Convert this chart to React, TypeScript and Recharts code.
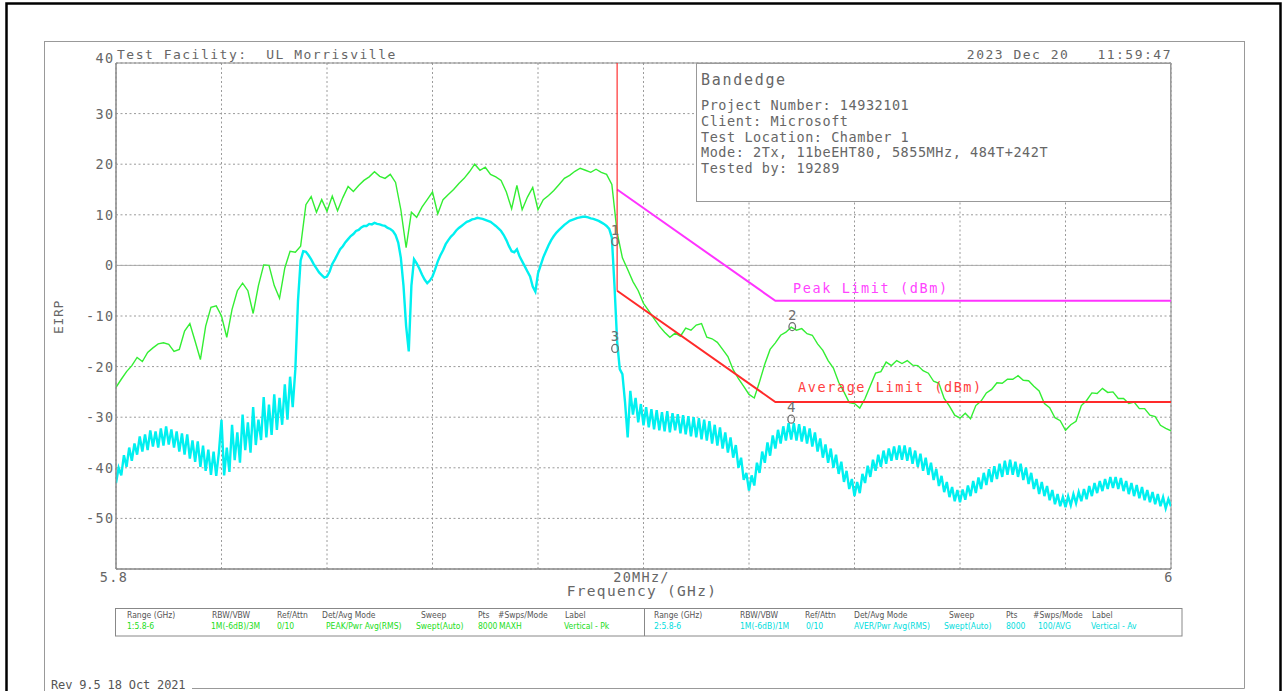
import React from 'react';
import {
  LineChart,
  Line,
  XAxis,
  YAxis,
  CartesianGrid,
  ReferenceLine,
  ReferenceArea,
  ReferenceDot,
} from 'recharts';

// ---------- data ----------
const START_GHZ = 5.8;
const PEAK_STEP_GHZ = 0.001; // peak trace: one sample per MHz
const AVG_STEP_GHZ = 0.0005; // average trace: one sample per 0.5 MHz

// Peak (Vertical - Pk), dBm EIRP, 5.800 .. 6.000 GHz
const peakTrace = [
  -24.1, -22.5, -21, -19.8, -18.2, -19, -17.2, -16.3, -15.5, -15.3,
  -15.6, -17, -16.6, -13, -11.5, -15, -18.6, -12, -8.3, -8,
  -10, -14.2, -8.7, -5, -3.5, -5, -9.5, -4, 0.1, 0,
  -4, -6.5, -0.5, 2.8, 2.6, 3.8, 12, 13.6, 10.5, 13,
  10.7, 13.7, 10.8, 13.4, 15.6, 14.6, 15.8, 16.8, 17.5, 18.5,
  17.6, 17.2, 18, 16.4, 11, 3.5, 10.5, 9.5, 11.5, 13,
  14.5, 10.2, 13, 14, 15, 16.2, 17.2, 18.5, 20, 18.8,
  19.4, 18, 17.5, 16.8, 14.5, 11.2, 15.8, 11, 13.5, 15.4,
  11, 13, 13.8, 14.8, 16, 17.2, 17.8, 18.6, 19.2, 18.8,
  18.4, 19, 18.4, 18, 16, 6.5, 1.5, -0.8, -3.2, -5,
  -7.5, -9, -10.5, -12, -13.2, -14.2, -13.4, -14, -12.4, -12.8,
  -11.8, -11.5, -14.2, -14.5, -15.2, -16.6, -18, -20.6, -22.4, -23.9,
  -25.5, -26.2, -23, -19.5, -16.6, -15.3, -13.8, -13.2, -12.2, -12.8,
  -12.5, -13.5, -13.8, -15.5, -16.8, -18.8, -20.3, -23.1, -25, -27.1,
  -27.3, -28.2, -26.3, -23.8, -21.3, -21, -19.1, -19.8, -18.8, -19.4,
  -18.8, -19.7, -19.8, -20.8, -21.3, -22.9, -23.3, -26.3, -27.8, -29.6,
  -30.2, -29.2, -30.3, -27.7, -26.8, -25.2, -24.5, -23.2, -23.3, -22.5,
  -22.5, -21.8, -22.7, -22.8, -23.9, -24.8, -27.3, -28.1, -30.1, -30.7,
  -32.6, -31.5, -30.8, -27.7, -26.7, -25.2, -25.3, -24.3, -25.1, -25,
  -26.3, -26.3, -27.3, -27, -28.3, -28.3, -29.6, -29.9, -31.6, -32.2,
  -32.7,
];

// Average (Vertical - Av), dBm EIRP, 5.8000 .. 6.0000 GHz in 0.5 MHz steps
const avgTrace = [
  -43, -40, -41.5, -37.5, -39.8, -36, -38.6, -35.2, -37.4, -33.8,
  -36.8, -33.4, -36.5, -32.6, -35.8, -32.8, -36, -32.2, -35.6, -31.8,
  -35.4, -32.4, -36, -32.8, -36.8, -33.2, -37.4, -33.4, -38.2, -34.6,
  -38.8, -34.8, -39.8, -35.6, -40.6, -36.4, -41.4, -36.8, -41.6, -37,
  -30.5, -41.5, -36, -40.8, -31.5, -38.5, -33, -39, -29.5, -36.5,
  -31, -37, -28, -35.5, -30.5, -34.5, -26, -34, -27.5, -33.5,
  -25.5, -32.5, -26.2, -31.5, -23.5, -30.5, -22, -28, -20.5, -7,
  1, 2.8, 2.7, 2.0, 1.2, 0.2, -0.6, -1.4, -1.9, -2.4,
  -2.2, -1.2, 0.3, 1.2, 2.2, 3.2, 3.8, 4.6, 5.2, 5.8,
  6.2, 6.8, 7, 7.5, 7.8, 7.8, 8.2, 8.1, 8.4, 8.2,
  8.1, 7.9, 7.8, 7.4, 7.2, 6.8, 6, 4.5, 1.5, -4,
  -12, -17, -4, 1.2, 0.4, -0.6, -1.8, -2.8, -3.5, -3,
  -2.2, -0.8, 0.8, 2, 3, 4.2, 5, 5.7, 6.2, 6.9,
  7.4, 7.8, 8.2, 8.6, 8.8, 9.1, 9.2, 9.4, 9.3, 9.2,
  9, 8.8, 8.6, 8.2, 7.8, 7.3, 6.8, 6, 5, 3.8,
  2.8, 2.6, 3.2, 1.8, 0.8, -0.2, -1.2, -2.2, -4.2, -5.2,
  -1.6, 0, 1.6, 2.8, 4, 5, 5.8, 6.5, 7, 7.5,
  8, 8.4, 8.8, 9, 9.2, 9.4, 9.5, 9.6, 9.6, 9.5,
  9.3, 9.2, 9, 8.8, 8.5, 8.2, 7.8, 7.2, 5.5, -4,
  -15, -20.5, -21.5, -27, -34, -24.8, -29.5, -26.2, -31, -27.4,
  -31.6, -28, -32, -28.4, -32.4, -28.6, -32.6, -29, -32.8, -28.8,
  -33, -29.2, -32.6, -29.4, -33.2, -29.6, -33.4, -29.8, -33.8, -30,
  -34, -30.2, -34.4, -30.5, -34.6, -30.8, -35.2, -31.5, -35.6, -32,
  -36.2, -33, -37, -34, -38, -35.5, -40, -38, -42.4, -41,
  -44.5, -41.5, -43.5, -39, -41, -36.8, -39, -35, -37.6, -33.6,
  -36.2, -32.5, -35.2, -31.8, -34.6, -31.2, -34.4, -31.2, -34.6, -31.4,
  -34.8, -31.8, -35.2, -32.2, -35.8, -33, -36.8, -34.2, -38, -35.4,
  -39, -36.2, -40, -37.4, -41.2, -38.8, -42.8, -40.6, -44.2, -42.2,
  -45.6, -42.8, -45, -41.2, -43, -39.6, -41.8, -38.4, -40.6, -37.4,
  -39.8, -36.6, -39.2, -36.2, -38.6, -35.8, -38.4, -35.6, -38.4, -35.6,
  -38.6, -36, -39.2, -36.6, -39.8, -37.2, -40.6, -38, -41.4, -39,
  -42.4, -40.2, -43.6, -41.6, -44.8, -42.8, -45.8, -43.8, -46.6, -44.4,
  -46.8, -44.3, -46.3, -43.5, -45.6, -42.6, -45, -41.9, -44.2, -41,
  -43.4, -40.3, -42.8, -39.7, -42.2, -39.2, -41.8, -38.6, -41.4, -38.4,
  -41.4, -38.8, -41.8, -39.2, -42.4, -40, -43.2, -41, -44.2, -42.2,
  -45.2, -42.8, -45.6, -43.6, -46.4, -44.4, -47.2, -45.2, -47.6, -45.8,
  -47.8, -45.6, -47.4, -45.2, -47, -44.8, -46.6, -44.2, -46.2, -43.6,
  -45.6, -43, -45, -42.6, -44.6, -42.2, -44.2, -41.8, -44, -41.8,
  -44.2, -42, -44.6, -42.6, -45.2, -43, -45.6, -43.4, -46, -43.8,
  -46.4, -44.4, -46.8, -44.8, -47.2, -45.2, -47.6, -45.8, -48, -46.2,
  -47.6,
];

// Limit lines
const limitFreqs = [5.895, 5.925, 6.0];
const peakLimit = [15, -7, -7];
const avgLimit = [-5, -27, -27];
const bandEdgeGHz = 5.895;

// Markers
const markerFreqs = [5.8946, 5.9282, 5.8946, 5.928];
const markerVals = [4.7, -12.1, -16.4, -30.4];
const markerLabels = ['1', '2', '3', '4'];

// Axes
const xTicks = [5.8, 5.82, 5.84, 5.86, 5.88, 5.9, 5.92, 5.94, 5.96, 5.98, 6.0];
const xTickLabels = ['5.8', '', '', '', '', '20MHz/', '', '', '', '', '6'];
const yTicks = [-60, -50, -40, -30, -20, -10, 0, 10, 20, 30, 40];
const yTickLabels = ['', '-50', '-40', '-30', '-20', '-10', '0', '10', '20', '30', '40'];

// Texts
const headerLeft = 'Test Facility:  UL Morrisville';
const headerRight = '2023 Dec 20   11:59:47';
const infoTitle = 'Bandedge';
const infoLines = [
  'Project Number: 14932101',
  'Client: Microsoft',
  'Test Location: Chamber 1',
  'Mode: 2Tx, 11beEHT80, 5855MHz, 484T+242T',
  'Tested by: 19289',
];
const tableHeaders = ['Range (GHz)', 'RBW/VBW', 'Ref/Attn', 'Det/Avg Mode', 'Sweep', 'Pts', '#Swps/Mode', 'Label'];
const leftValues = ['1:5.8-6', '1M(-6dB)/3M', '0/10', 'PEAK/Pwr Avg(RMS)', 'Swept(Auto)', '8000', 'MAXH', 'Vertical - Pk'];
const rightValues = ['2:5.8-6', '1M(-6dB)/1M', '0/10', 'AVER/Pwr Avg(RMS)', 'Swept(Auto)', '8000', '100/AVG', 'Vertical - Av'];

// ---------- layout ----------
const W = 1283;
const H = 691;
const PLOT_LEFT = 116;
const PLOT_RIGHT = 1171;
const PLOT_TOP = 63;
const PLOT_BOTTOM = 569;
const Y_AXIS_W = 40;
const X_AXIS_H = 30;

const leftHeaderX = [127, 212, 277, 322, 421, 478, 498, 565];
const leftValueX = [127, 211, 277, 326, 416, 478, 499, 564];
const rightHeaderX = [654, 740, 805, 854, 949, 1006, 1033, 1092];
const rightValueX = [654, 740, 806, 854, 944, 1006, 1038, 1091];

const MONO = "'DejaVu Sans Mono', monospace";
const COND = "'DejaVu Sans Condensed', 'DejaVu Sans', sans-serif";
const TEXT_GRAY = '#666';

const peakRows = peakTrace.map((v, i) => ({
  f: +(START_GHZ + i * PEAK_STEP_GHZ).toFixed(4),
  pk: v,
}));
const avgRows = avgTrace.map((v, j) => ({
  f: +(START_GHZ + j * AVG_STEP_GHZ).toFixed(5),
  av: v,
}));
const limitRows = limitFreqs.map((f, i) => ({ f, pl: peakLimit[i], al: avgLimit[i] }));

const XTick = (props: any) => {
  const { x, payload } = props;
  const idx = xTicks.findIndex((t) => Math.abs(t - payload.value) < 1e-6);
  const label = idx >= 0 ? xTickLabels[idx] : '';
  return (
    <text
      x={x - 2}
      y={PLOT_BOTTOM + 13}
      textAnchor="middle"
      fill={TEXT_GRAY}
      style={{ fontFamily: MONO, fontSize: 13.5, letterSpacing: 1.3 }}
    >
      {label}
    </text>
  );
};

const YTick = (props: any) => {
  const { y, payload } = props;
  const idx = yTicks.indexOf(payload.value);
  const label = idx >= 0 ? yTickLabels[idx] : '';
  const shift = payload.value === 40 ? -5.3 : 0;
  return (
    <text
      x={PLOT_LEFT - 1.5}
      y={y + 5 + shift}
      textAnchor="end"
      fill={TEXT_GRAY}
      style={{ fontFamily: MONO, fontSize: 13.5, letterSpacing: 1.4 }}
    >
      {label}
    </text>
  );
};

const makeMarker = (label: string) => (props: any) => {
  const { cx, cy } = props;
  return (
    <g>
      <text
        x={cx}
        y={cy - 7}
        textAnchor="middle"
        fill="#707070"
        style={{ fontFamily: MONO, fontSize: 14 }}
      >
        {label}
      </text>
      <ellipse cx={cx} cy={cy} rx={3.3} ry={4} fill="none" stroke="#707070" strokeWidth={1.3} />
    </g>
  );
};

const Overlay = () => (
  <svg
    width={W}
    height={H}
    style={{ position: 'absolute', left: 0, top: 0, pointerEvents: 'none' }}
  >
    {/* outer black frame */}
    <rect x={6.5} y={3.5} width={1274} height={720} fill="none" stroke="#000" strokeWidth={2.5} />
    {/* inner gray frame */}
    <line x1={44.5} y1={41} x2={44.5} y2={691} stroke="#999" strokeWidth={1} />
    <line x1={44.5} y1={41.5} x2={1244.5} y2={41.5} stroke="#999" strokeWidth={1} />
    <line x1={1244.5} y1={41} x2={1244.5} y2={688.5} stroke="#999" strokeWidth={1} />
    <line x1={192} y1={688.5} x2={1244.5} y2={688.5} stroke="#999" strokeWidth={1} />

    {/* header */}
    <text x={117} y={59} fill={TEXT_GRAY} style={{ fontFamily: MONO, fontSize: 13, letterSpacing: 1.5, whiteSpace: 'pre' }}>
      {headerLeft}
    </text>
    <text x={1172} y={59} textAnchor="end" fill={TEXT_GRAY} style={{ fontFamily: MONO, fontSize: 13, letterSpacing: 1.5, whiteSpace: 'pre' }}>
      {headerRight}
    </text>

    {/* info box */}
    <rect x={696.5} y={63.5} width={474} height={138} fill="#fff" stroke="#999" strokeWidth={1} />
    <text x={701} y={85} fill={TEXT_GRAY} style={{ fontFamily: MONO, fontSize: 15, letterSpacing: 1.7 }}>
      {infoTitle}
    </text>
    {infoLines.map((t, i) => (
      <text
        key={i}
        x={701}
        y={110 + i * 15.8}
        fill={TEXT_GRAY}
        style={{ fontFamily: MONO, fontSize: 13.5, letterSpacing: 0.55, whiteSpace: 'pre' }}
      >
        {t}
      </text>
    ))}

    {/* limit labels */}
    <text x={793} y={293} fill="#ff44ff" style={{ fontFamily: MONO, fontSize: 13.5, letterSpacing: 1.6, whiteSpace: 'pre' }}>
      Peak Limit (dBm)
    </text>
    <text x={798} y={392} fill="#ff4040" style={{ fontFamily: MONO, fontSize: 13.5, letterSpacing: 1.6, whiteSpace: 'pre' }}>
      Average Limit (dBm)
    </text>

    {/* axis titles */}
    <text
      x={0}
      y={0}
      transform="translate(63 317) rotate(-90)"
      textAnchor="middle"
      fill={TEXT_GRAY}
      style={{ fontFamily: MONO, fontSize: 13, letterSpacing: 0.7 }}
    >
      EIRP
    </text>
    <text x={642} y={596} textAnchor="middle" fill={TEXT_GRAY} style={{ fontFamily: MONO, fontSize: 14.5, letterSpacing: 1.3, whiteSpace: 'pre' }}>
      Frequency (GHz)
    </text>

    {/* settings table */}
    <rect x={115.5} y={608.5} width={1066.5} height={27.5} fill="none" stroke="#888" strokeWidth={1} />
    <line x1={644.5} y1={608.5} x2={644.5} y2={636} stroke="#888" strokeWidth={1} />
    {tableHeaders.map((t, i) => (
      <text key={'lh' + i} x={leftHeaderX[i]} y={618} fill="#555" style={{ fontFamily: COND, fontStretch: 'condensed', fontSize: 8.5, whiteSpace: 'pre' }}>
        {t}
      </text>
    ))}
    {leftValues.map((t, i) => (
      <text key={'lv' + i} x={leftValueX[i]} y={628.5} fill="#22dd22" style={{ fontFamily: COND, fontStretch: 'condensed', fontSize: 8.5, whiteSpace: 'pre' }}>
        {t}
      </text>
    ))}
    {tableHeaders.map((t, i) => (
      <text key={'rh' + i} x={rightHeaderX[i]} y={618} fill="#555" style={{ fontFamily: COND, fontStretch: 'condensed', fontSize: 8.5, whiteSpace: 'pre' }}>
        {t}
      </text>
    ))}
    {rightValues.map((t, i) => (
      <text key={'rv' + i} x={rightValueX[i]} y={628.5} fill="#00dddd" style={{ fontFamily: COND, fontStretch: 'condensed', fontSize: 8.5, whiteSpace: 'pre' }}>
        {t}
      </text>
    ))}

    {/* revision */}
    <text x={51} y={689} fill="#555" style={{ fontFamily: MONO, fontSize: 12, letterSpacing: -0.15, whiteSpace: 'pre' }}>
      Rev 9.5 18 Oct 2021
    </text>
  </svg>
);

export default function App() {
  return (
    <div
      style={{
        position: 'absolute',
        left: 0,
        top: 0,
        width: W,
        height: H,
        overflow: 'hidden',
        background: '#fff',
      }}
    >
      <div style={{ position: 'absolute', left: 0, top: 0 }}>
        <LineChart
          width={W}
          height={H}
          data={peakRows}
          margin={{
            top: PLOT_TOP,
            right: W - PLOT_RIGHT,
            bottom: H - PLOT_BOTTOM - X_AXIS_H,
            left: PLOT_LEFT - Y_AXIS_W,
          }}
        >
          <CartesianGrid stroke="#9a9a9a" strokeDasharray="2 2.5" strokeWidth={1} />
          <ReferenceArea
            x1={5.8}
            x2={6.0}
            y1={-60}
            y2={40}
            fill="none"
            stroke="#888"
            strokeWidth={1}
            ifOverflow="visible"
          />
          <ReferenceLine y={0} stroke="#aaa" strokeWidth={1} />
          <XAxis
            type="number"
            dataKey="f"
            domain={[5.8, 6.0]}
            ticks={xTicks}
            tick={<XTick />}
            tickLine={false}
            axisLine={{ stroke: '#888' }}
            height={X_AXIS_H}
            allowDataOverflow
            interval={0}
          />
          <YAxis
            type="number"
            domain={[-60, 40]}
            ticks={yTicks}
            tick={<YTick />}
            tickLine={false}
            axisLine={{ stroke: '#888' }}
            width={Y_AXIS_W}
            allowDataOverflow
            interval={0}
          />
          <Line
            dataKey="pk"
            type="linear"
            stroke="#33ee33"
            strokeWidth={1.4}
            dot={false}
            isAnimationActive={false}
          />
          <Line
            data={avgRows}
            dataKey="av"
            type="linear"
            stroke="#00f0f0"
            strokeWidth={2.4}
            dot={false}
            isAnimationActive={false}
          />
          <Line
            data={limitRows}
            dataKey="pl"
            type="linear"
            stroke="#ff33ff"
            strokeWidth={2}
            dot={false}
            isAnimationActive={false}
          />
          <Line
            data={limitRows}
            dataKey="al"
            type="linear"
            stroke="#ff2a2a"
            strokeWidth={2}
            dot={false}
            isAnimationActive={false}
          />
          <ReferenceLine
            segment={[
              { x: bandEdgeGHz, y: 40 },
              { x: bandEdgeGHz, y: avgLimit[0] },
            ]}
            stroke="#ff3030"
            strokeWidth={1.2}
          />
          {markerFreqs.map((f, i) => (
            <ReferenceDot
              key={i}
              x={f}
              y={markerVals[i]}
              r={4}
              shape={makeMarker(markerLabels[i])}
            />
          ))}
        </LineChart>
      </div>
      <Overlay />
    </div>
  );
}
